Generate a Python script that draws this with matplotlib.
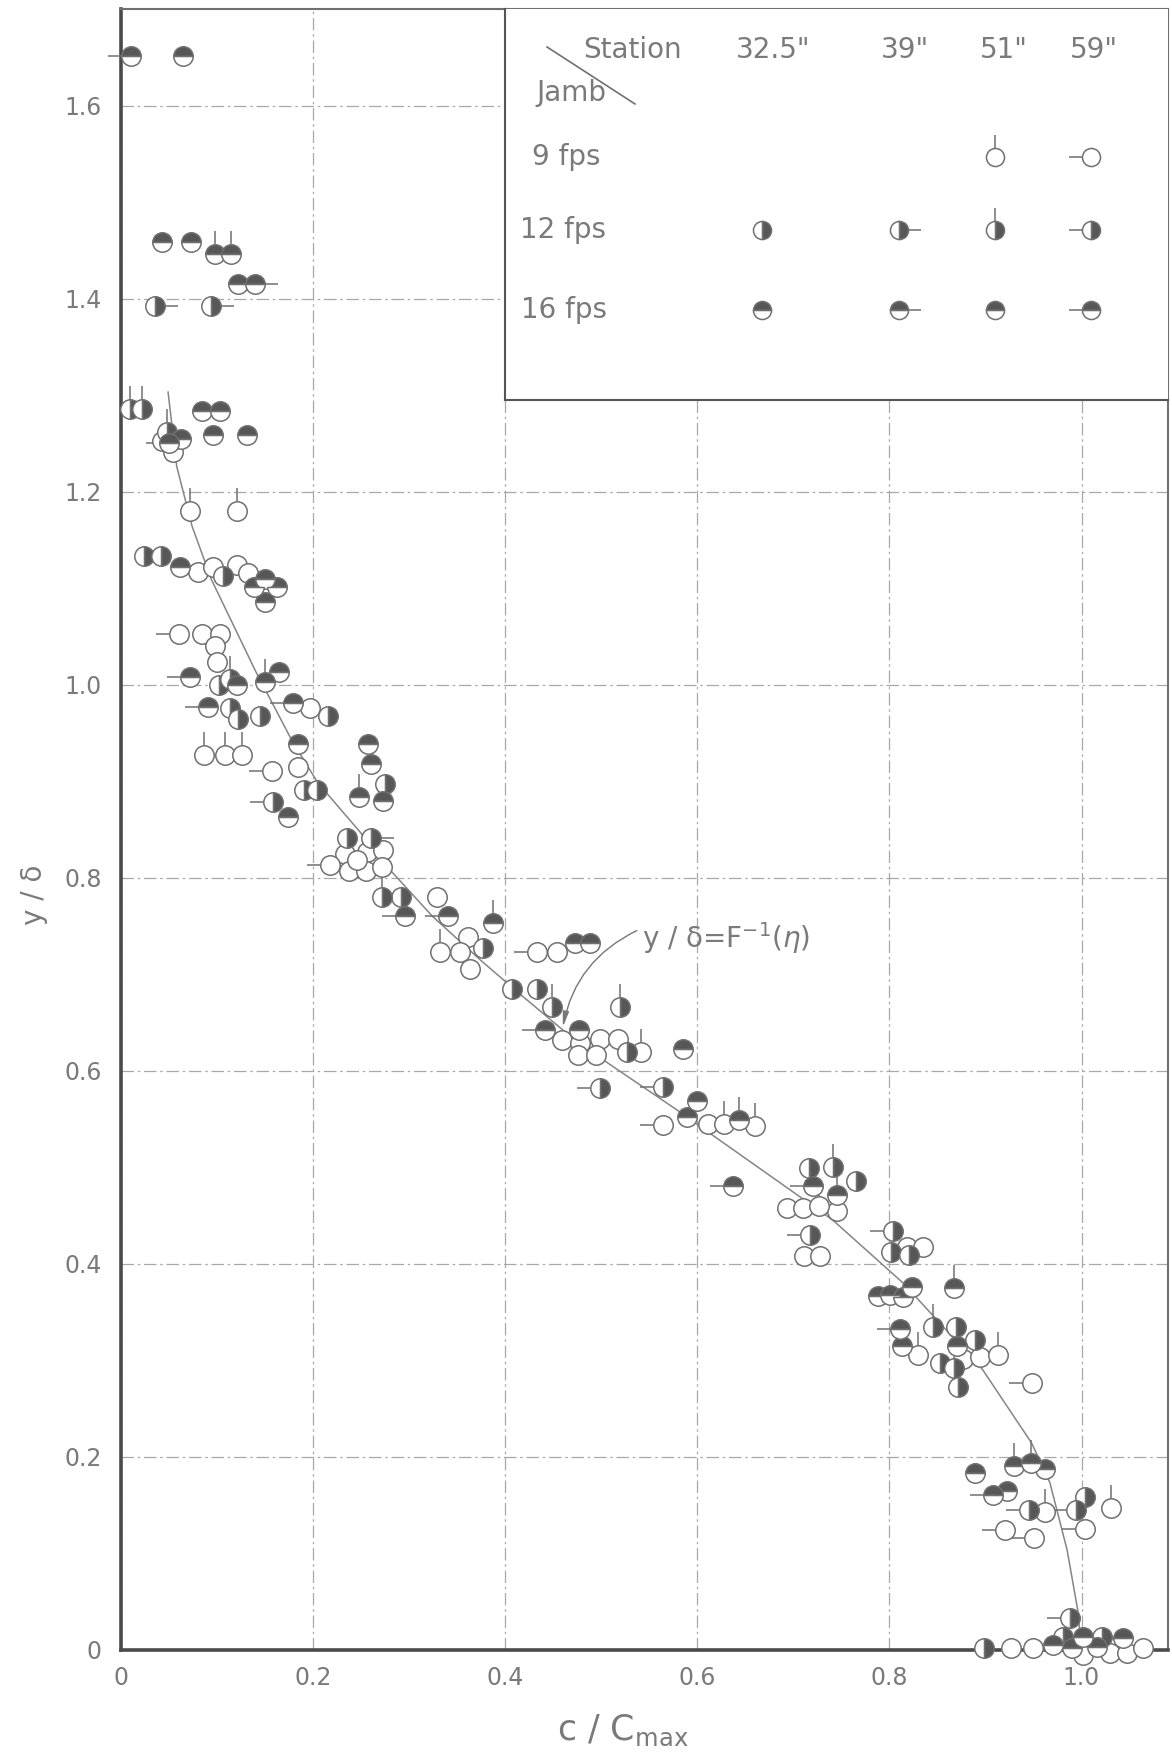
import numpy as np
import matplotlib
matplotlib.use('Agg')
import matplotlib.pyplot as plt
from matplotlib.path import Path

plt.rcParams['font.family'] = 'DejaVu Sans'
plt.rcParams['mathtext.fontset'] = 'dejavusans'

# open circles without flag
open_x = [0.043, 0.054, 0.080, 0.096, 0.121, 0.132, 0.084, 0.103, 0.098, 0.100, 0.197, 0.184,
          0.233, 0.256, 0.273, 0.237, 0.255, 0.272, 0.246, 0.329, 0.361, 0.353, 0.363, 0.454,
          0.459, 0.478, 0.499, 0.517, 0.476, 0.494, 0.611, 0.693, 0.710, 0.745, 0.711, 0.728,
          0.818, 0.835, 0.877, 0.894, 0.927, 0.949, 1.001, 1.030, 1.047, 1.064]
open_y = [1.252, 1.241, 1.117, 1.122, 1.124, 1.116, 1.052, 1.052, 1.040, 1.023, 0.976, 0.914,
          0.824, 0.826, 0.828, 0.807, 0.807, 0.811, 0.818, 0.780, 0.738, 0.723, 0.705, 0.723,
          0.632, 0.629, 0.633, 0.633, 0.616, 0.616, 0.545, 0.457, 0.457, 0.454, 0.408, 0.408,
          0.417, 0.417, 0.301, 0.303, 0.002, 0.002, -0.006, -0.004, -0.004, 0.002]

# 9 fps, station 51"
j9_51_x = [0.072, 0.121, 0.086, 0.108, 0.126, 0.332, 0.541, 0.628, 0.660, 0.727, 0.830, 0.913, 0.962, 1.031]
j9_51_y = [1.180, 1.180, 0.927, 0.927, 0.927, 0.723, 0.619, 0.545, 0.542, 0.460, 0.305, 0.305, 0.143, 0.147]

# 9 fps, station 59"
j9_59_x = [0.060, 0.157, 0.218, 0.433, 0.564, 0.948, 0.920, 0.951, 1.004]
j9_59_y = [1.052, 0.910, 0.813, 0.723, 0.544, 0.276, 0.124, 0.116, 0.125]

# 12 fps, station 32.5"
j12_32_x = [0.024, 0.042, 0.106, 0.102, 0.113, 0.122, 0.145, 0.216, 0.190, 0.204, 0.275, 0.235,
            0.292, 0.377, 0.407, 0.433, 0.527, 0.716, 0.765, 0.802, 0.820, 0.869, 0.853, 0.889,
            0.867, 0.871, 1.004, 0.898, 0.981, 1.021]
j12_32_y = [1.133, 1.133, 1.112, 1.000, 0.976, 0.964, 0.967, 0.967, 0.891, 0.891, 0.897, 0.841,
            0.780, 0.727, 0.684, 0.684, 0.619, 0.499, 0.486, 0.412, 0.409, 0.334, 0.297, 0.321,
            0.292, 0.272, 0.158, 0.002, 0.013, 0.013]

# 12 fps, station 39"
j12_39_x = [0.035, 0.094, 0.260]
j12_39_y = [1.392, 1.392, 0.841]

# 12 fps, station 51"
j12_51_x = [0.009, 0.022, 0.048, 0.113, 0.272, 0.449, 0.520, 0.741, 0.845]
j12_51_y = [1.285, 1.285, 1.262, 1.006, 0.780, 0.666, 0.666, 0.500, 0.334]

# 12 fps, station 59"
j12_59_x = [0.158, 0.499, 0.564, 0.717, 0.804, 0.945, 0.994, 0.988]
j12_59_y = [0.878, 0.582, 0.583, 0.430, 0.434, 0.145, 0.145, 0.033]

# 16 fps, stations 32.5" and 51"
j16_32_x = [0.065, 0.043, 0.073, 0.122, 0.084, 0.103, 0.096, 0.131, 0.062, 0.061, 0.150, 0.138,
            0.162, 0.150, 0.121, 0.164, 0.184, 0.174, 0.257, 0.260, 0.273, 0.473, 0.488, 0.477,
            0.585, 0.600, 0.589, 0.788, 0.801, 0.814, 0.824, 0.813, 0.870, 0.962, 0.889, 0.922,
            0.970, 1.001, 0.990, 1.016, 1.043]
j16_32_y = [1.651, 1.459, 1.459, 1.415, 1.283, 1.283, 1.259, 1.259, 1.254, 1.122, 1.109, 1.101,
            1.101, 1.086, 1.000, 1.013, 0.938, 0.863, 0.938, 0.918, 0.879, 0.732, 0.732, 0.642,
            0.622, 0.568, 0.552, 0.366, 0.367, 0.365, 0.376, 0.314, 0.314, 0.187, 0.183, 0.164,
            0.005, 0.013, 0.002, 0.003, 0.012]

# 16 fps, station 39"
j16_39_x = [0.139]
j16_39_y = [1.415]

# 16 fps, flagged upward
j16_up_x = [0.098, 0.115, 0.150, 0.248, 0.387, 0.643, 0.745, 0.867, 0.930, 0.947]
j16_up_y = [1.446, 1.446, 1.003, 0.883, 0.753, 0.549, 0.471, 0.375, 0.190, 0.193]

# 16 fps, station 59"
j16_59_x = [0.010, 0.050, 0.072, 0.091, 0.179, 0.296, 0.340, 0.441, 0.637, 0.720, 0.811, 0.908]
j16_59_y = [1.651, 1.250, 1.008, 0.977, 0.981, 0.760, 0.760, 0.642, 0.480, 0.480, 0.332, 0.160]

# y/delta = F^-1(eta)
curve_x = [0.049, 0.058, 0.074, 0.094, 0.141, 0.179, 0.205, 0.249, 0.280, 0.324, 0.377, 0.418,
           0.460, 0.502, 0.579, 0.613, 0.707, 0.741, 0.814, 0.897, 0.948, 0.967, 0.985, 0.996, 0.998]
curve_y = [1.303, 1.226, 1.164, 1.109, 1.012, 0.940, 0.898, 0.847, 0.808, 0.760, 0.712, 0.677,
           0.642, 0.611, 0.559, 0.535, 0.469, 0.445, 0.380, 0.290, 0.214, 0.173, 0.103, 0.041, 0.020]

x_ticks = [0, 0.2, 0.4, 0.6, 0.8, 1.0]
x_labels = ['0', '0.2', '0.4', '0.6', '0.8', '1.0']
y_ticks = [0, 0.2, 0.4, 0.6, 0.8, 1.0, 1.2, 1.4, 1.6]
y_labels = ['0', '0.2', '0.4', '0.6', '0.8', '1.0', '1.2', '1.4', '1.6']

DARK = '#575757'
EDGE = '#707070'
TXT = '#7a7a7a'
MS = 14
FLAG = 2.4

flags = {
    'up': Path([(0, 1), (0, FLAG)], [Path.MOVETO, Path.LINETO]),
    'left': Path([(-1, 0), (-FLAG, 0)], [Path.MOVETO, Path.LINETO]),
    'right': Path([(1, 0), (FLAG, 0)], [Path.MOVETO, Path.LINETO]),
}


def draw(a, xs, ys, fill, flag=None, z=3, ms=MS):
    if fill == 'open':
        a.plot(xs, ys, ls='none', marker='o', ms=ms, mfc='white', mec=EDGE, mew=1.1,
               zorder=z, clip_on=False)
    else:
        a.plot(xs, ys, ls='none', marker='o', ms=ms, fillstyle=fill, mfc=DARK,
               mfcalt='white', mec=EDGE, mew=1.1, zorder=z, clip_on=False)
    if flag:
        a.plot(xs, ys, ls='none', marker=flags[flag], ms=ms * FLAG, mfc='none',
               mec=EDGE, mew=1.1, zorder=z - 0.1, clip_on=False)


fig = plt.figure(figsize=(11.72, 17.53), dpi=100)
ax = fig.add_axes([121 / 1172, 1 - 1649.5 / 1753, 1047 / 1172, 1640.5 / 1753])
ax.set_xlim(0, 1.09)
ax.set_ylim(0, 1.70)

ax.grid(True, color='#a8a8a8', lw=0.9, ls=(0, (10, 3, 2, 3)))
ax.set_axisbelow(True)
ax.set_xticks(x_ticks)
ax.set_xticklabels(x_labels)
ax.set_yticks(y_ticks)
ax.set_yticklabels(y_labels)
ax.tick_params(length=0, labelsize=17, labelcolor=TXT)
ax.tick_params(axis='y', pad=14)
ax.tick_params(axis='x', pad=12)
for s in ['left', 'bottom']:
    ax.spines[s].set_color('#4a4a4a')
    ax.spines[s].set_linewidth(2.6)
for s in ['top', 'right']:
    ax.spines[s].set_color('#707070')
    ax.spines[s].set_linewidth(1.5)

ax.plot(curve_x, curve_y, color='#858585', lw=1.1, zorder=2)

draw(ax, open_x, open_y, 'open')
draw(ax, j9_51_x, j9_51_y, 'open', 'up')
draw(ax, j9_59_x, j9_59_y, 'open', 'left')
draw(ax, j12_32_x, j12_32_y, 'right')
draw(ax, j12_39_x, j12_39_y, 'right', 'right')
draw(ax, j12_51_x, j12_51_y, 'right', 'up')
draw(ax, j12_59_x, j12_59_y, 'right', 'left')
draw(ax, j16_32_x, j16_32_y, 'top')
draw(ax, j16_39_x, j16_39_y, 'top', 'right')
draw(ax, j16_up_x, j16_up_y, 'top', 'up')
draw(ax, j16_59_x, j16_59_y, 'top', 'left')

ax.text(0.542, 0.737, r'y / δ=F$^{-1}$($\eta$)', fontsize=20, color=TXT, va='center', ha='left')
ax.annotate('', xy=(0.460, 0.645), xytext=(0.537, 0.745),
            arrowprops=dict(arrowstyle='-|>,head_length=0.9,head_width=0.18', color='#777777',
                            lw=1, shrinkA=0, shrinkB=0, connectionstyle='arc3,rad=0.25'))

fig.text(34 / 1172, 1 - 895 / 1753, 'y / δ', rotation=90, fontsize=20, color=TXT,
         ha='center', va='center')
fig.text(623 / 1172, 1 - 1730 / 1753, r'c / C$_{\rm max}$', fontsize=25, color=TXT,
         ha='center', va='center')

# key box in the upper right, laid out in pixel units
leg = ax.inset_axes([0.3668, 0.7617, 0.6332, 0.2383])
leg.set_xlim(505, 1168)
leg.set_ylim(400, 9)
leg.set_xticks([])
leg.set_yticks([])
leg.set_facecolor('white')
leg.spines['top'].set_visible(False)
leg.spines['right'].set_visible(False)
for s in ['left', 'bottom']:
    leg.spines[s].set_color('#555555')
    leg.spines[s].set_linewidth(1.5)

stations = ['Station', '32.5"', '39"', '51"', '59"']
station_x = [583, 736, 881, 980, 1070]
for s, x in zip(stations, station_x):
    leg.text(x, 50, s, fontsize=20, color=TXT, ha='left', va='center')
leg.text(536, 93, 'Jamb', fontsize=20, color=TXT, ha='left', va='center')
leg.plot([547, 635], [47, 104], color='#707070', lw=1.2)

speeds = ['9 fps', '12 fps', '16 fps']
speed_x = [532, 520, 521]
row_y = [157, 230, 310]
col_x = [762, 899, 995, 1091]
for s, x, y in zip(speeds, speed_x, row_y):
    leg.text(x, y, s, fontsize=20, color=TXT, ha='left', va='center')

key = [
    [None, None, ('open', 'up'), ('open', 'left')],
    [('right', None), ('right', 'right'), ('right', 'up'), ('right', 'left')],
    [('top', None), ('top', 'right'), ('top', None), ('top', 'left')],
]
for row, y in zip(key, row_y):
    for item, x in zip(row, col_x):
        if item:
            draw(leg, [x], [y], item[0], item[1], z=6, ms=13)

fig.savefig('out.png', dpi=100, facecolor='white')
